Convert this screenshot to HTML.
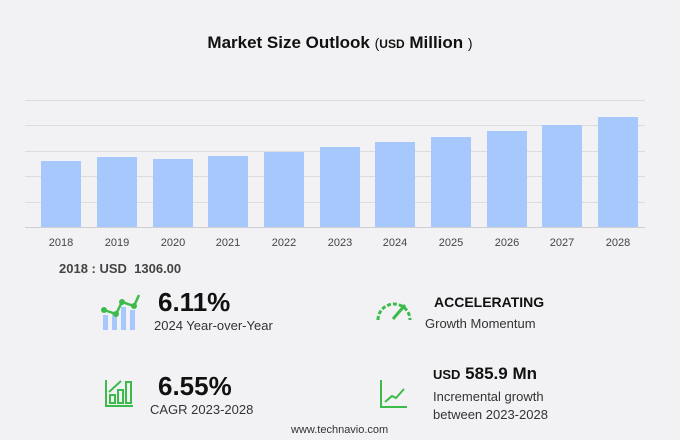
<!DOCTYPE html>
<html><head><meta charset="utf-8"><style>
body{margin:0;width:680px;height:440px;background:#f2f2f4;font-family:"Liberation Sans",sans-serif;position:relative;overflow:hidden}
.t{position:absolute;white-space:nowrap;color:#222}
</style></head><body>
<svg width="680" height="440" style="position:absolute;left:0;top:0">
<g stroke="#dcdcdf" stroke-width="1">
<line x1="25" x2="645" y1="100.5" y2="100.5"/><line x1="25" x2="645" y1="125.5" y2="125.5"/>
<line x1="25" x2="645" y1="151.5" y2="151.5"/><line x1="25" x2="645" y1="176.5" y2="176.5"/>
<line x1="25" x2="645" y1="202.5" y2="202.5"/></g>
<g fill="#a6c8fd">
<rect x="41" y="161" width="40" height="67"/><rect x="97" y="157" width="40" height="71"/>
<rect x="153" y="159" width="40" height="69"/><rect x="208" y="156" width="40" height="72"/>
<rect x="264" y="152" width="40" height="76"/><rect x="320" y="147" width="40" height="81"/>
<rect x="375" y="142" width="40" height="86"/><rect x="431" y="137" width="40" height="91"/>
<rect x="487" y="131" width="40" height="97"/><rect x="542" y="125" width="40" height="103"/>
<rect x="598" y="117" width="40" height="111"/></g>
<line x1="25" x2="645" y1="227.5" y2="227.5" stroke="#cfcfd3"/>
<g font-family="Liberation Sans" font-size="11" fill="#444" text-anchor="middle">
<text x="61" y="246">2018</text><text x="117" y="246">2019</text><text x="173" y="246">2020</text>
<text x="228" y="246">2021</text><text x="284" y="246">2022</text><text x="340" y="246">2023</text>
<text x="395" y="246">2024</text><text x="451" y="246">2025</text><text x="507" y="246">2026</text>
<text x="562" y="246">2027</text><text x="618" y="246">2028</text></g>
<g fill="#a6c8fd"><rect x="103" y="315" width="5" height="15"/><rect x="112" y="314" width="5" height="16"/><rect x="121" y="307" width="5" height="23"/><rect x="130" y="310" width="5" height="20"/></g>
<polyline points="104,310 116,314 122,302 134,306 139,295" fill="none" stroke="#3dbb4a" stroke-width="2.5"/>
<g fill="#3dbb4a"><circle cx="104" cy="310" r="3"/><circle cx="116" cy="314" r="3"/><circle cx="122" cy="302" r="3"/><circle cx="134" cy="306" r="3"/></g>
<path d="M378,320 A16,16 0 0 1 410,320" fill="none" stroke="#3dbb4a" stroke-width="3" stroke-dasharray="4,2"/>
<line x1="393" y1="319" x2="405" y2="305" stroke="#3dbb4a" stroke-width="3"/>
<g fill="none" stroke="#3dbb4a" stroke-width="2">
<polyline points="106,380 106,406 133,406"/><rect x="110" y="395" width="5" height="8"/><rect x="118" y="390" width="5" height="13"/><rect x="126" y="382" width="5" height="21"/>
<polyline points="109,392 121,381"/></g>
<g fill="none" stroke="#3dbb4a" stroke-width="2">
<polyline points="381,380 381,407 407,407"/><polyline points="385,402 392,396 396,398 404,389"/></g>
</svg>
<div class="t" style="left:0;width:680px;text-align:center;top:33px;font-size:17px;font-weight:bold;color:#111">Market Size Outlook <span style="font-weight:normal;font-size:14px">(</span><span style="font-size:12px">USD</span> Million <span style="font-weight:normal;font-size:14px">)</span></div>
<div class="t" style="left:59px;top:261px;font-size:13px;font-weight:bold;color:#444">2018 : USD&nbsp; 1306.00</div>
<div class="t" style="left:158px;top:287px;font-size:26px;font-weight:bold;color:#111">6.11%</div>
<div class="t" style="left:154px;top:318px;font-size:13px;color:#333">2024 Year-over-Year</div>
<div class="t" style="left:158px;top:371px;font-size:26px;font-weight:bold;color:#111">6.55%</div>
<div class="t" style="left:150px;top:402px;font-size:13px;color:#333">CAGR 2023-2028</div>
<div class="t" style="left:434px;top:294px;font-size:14px;font-weight:bold;color:#111">ACCELERATING</div>
<div class="t" style="left:425px;top:316px;font-size:13px;color:#333">Growth Momentum</div>
<div class="t" style="left:433px;top:364px;font-size:17px;font-weight:bold;color:#111"><span style="font-size:13px">USD</span> 585.9 Mn</div>
<div class="t" style="left:433px;top:388px;font-size:13px;color:#333;line-height:18px">Incremental growth<br>between 2023-2028</div>
<div class="t" style="left:291px;top:424px;font-size:11px;color:#333">www.technavio.com</div>
</body></html>
